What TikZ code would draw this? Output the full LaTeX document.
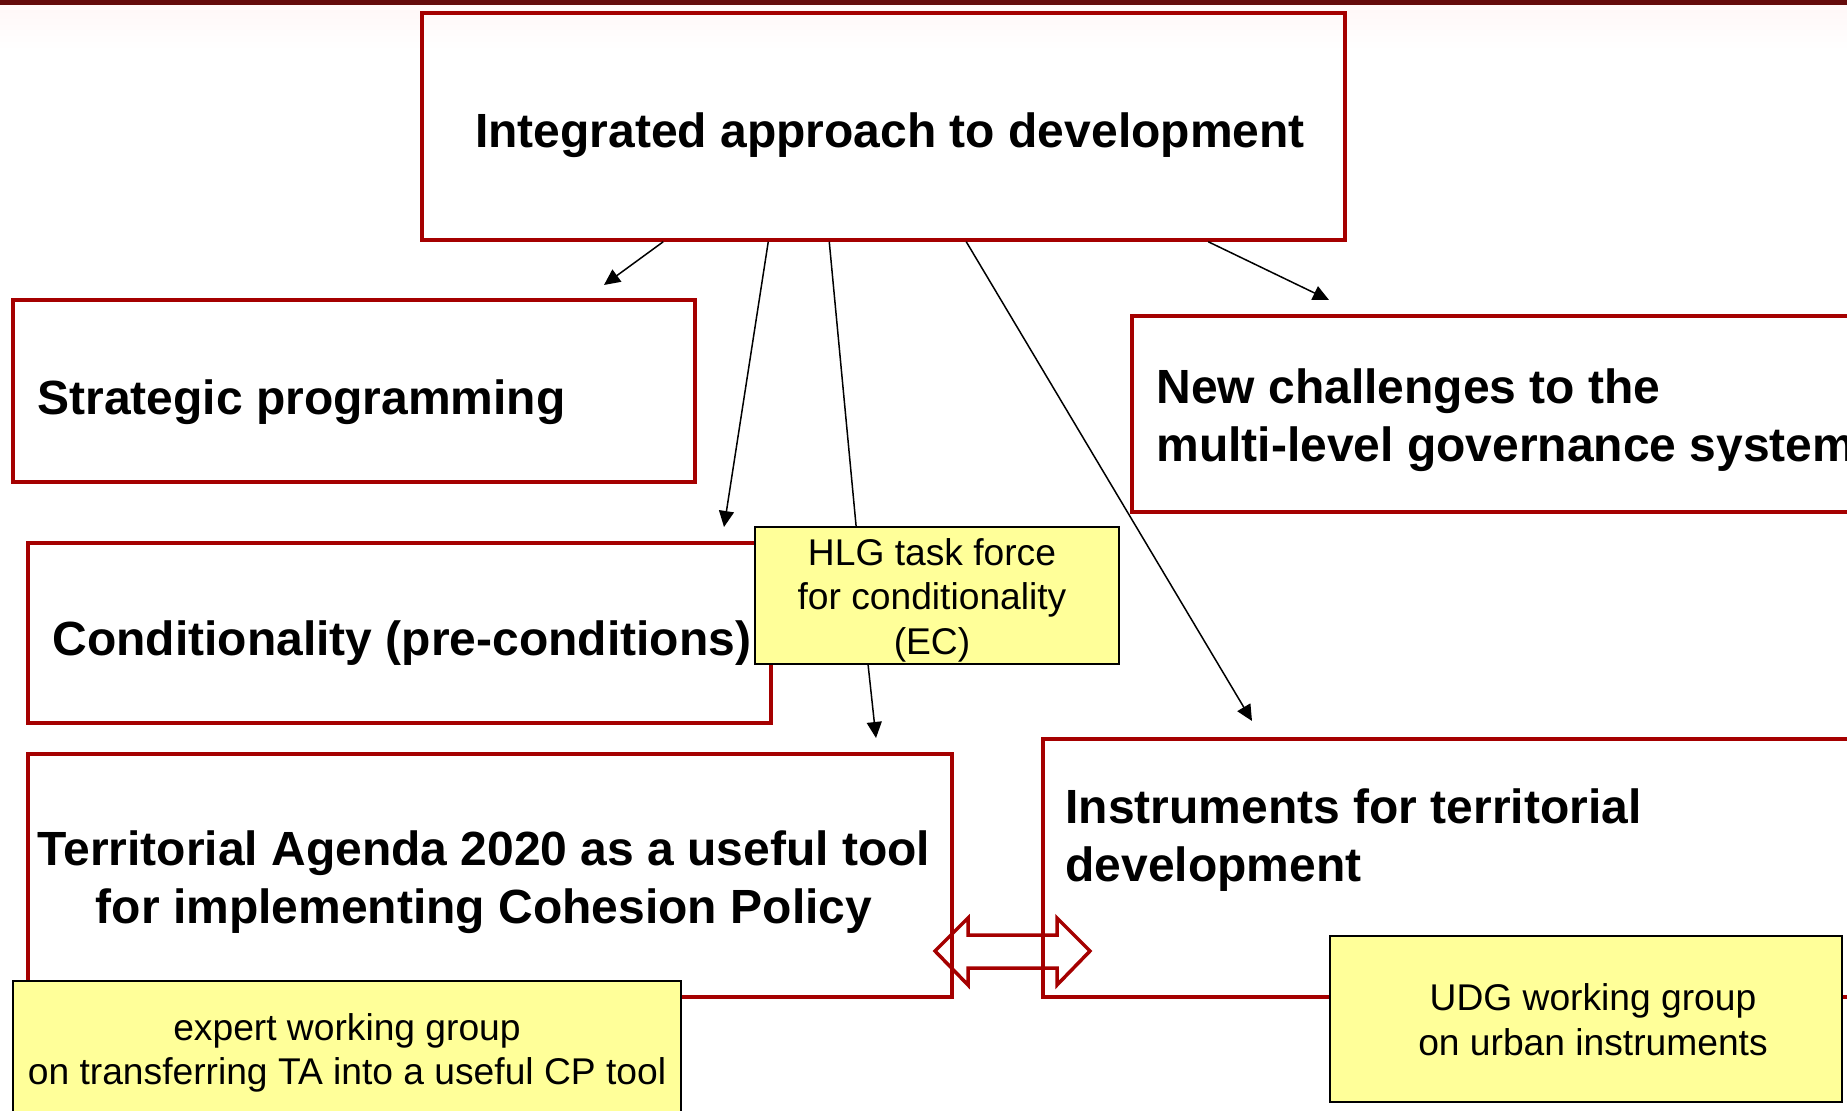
\documentclass[tikz,border=0pt]{standalone}
\usepackage{fontspec}
\setmainfont{Liberation Sans}
\usetikzlibrary{arrows.meta,fit,calc}
\definecolor{boxred}{HTML}{A50000}
\definecolor{notefill}{HTML}{FFFF99}
\definecolor{barred}{HTML}{650A0A}
\begin{document}
\begin{tikzpicture}[x=0.5pt,y=-0.5pt,
 redbox/.style={draw=boxred,line width=1.75pt,inner sep=0pt},
 notebox/.style={draw=black,fill=notefill,line width=0.9pt,inner sep=0pt},
 bigtext/.style={font=\fontsize{24}{28.9}\selectfont\bfseries,inner sep=0pt},
 smalltext/.style={font=\fontsize{18.6}{22.3}\selectfont,inner sep=0pt,align=center},
 link/.style={line width=0.75pt,-{Triangle[length=8pt,width=7.5pt]}},
 plainlink/.style={line width=0.75pt},
 dblarrow/.style={draw=boxred,line width=1.75pt,line join=miter}]
\useasboundingbox (0,0) rectangle (1847,1111);
\begin{scope}
\clip (0,0) rectangle (1847,1111);
\fill[barred] (0,0) rectangle (1847,6);
\shade[top color=red!3, bottom color=white] (0,6) rectangle (1847,50);
% red boxes
\node[redbox, fit={(422,13) (1345,240)}] (top) {};
\node[redbox, fit={(13,300) (695,482)}] (strat) {};
\node[redbox, fit={(28,543) (771,723)}] (cond) {};
\node[redbox, fit={(28,754) (952,997)}] (ta) {};
\node[redbox, fit={(1043,739) (1910,997)}] (inst) {};
\node[redbox, fit={(1132,316) (1910,512)}] (newc) {};
% texts in red boxes
\node[bigtext] (ttop) at (890,135) {Integrated approach to development};
\node[bigtext,anchor=west] (tstrat) at (37,402) {Strategic programming};
\node[bigtext,anchor=west] (tcond) at (52,643) {Conditionality (pre-conditions)};
\node[bigtext,align=center] (tta) at (484,882) {Territorial Agenda 2020 as a useful tool\\for implementing Cohesion Policy};
\node[bigtext,align=left,anchor=west] (tinst) at (1065,840) {Instruments for territorial\\development};
\node[bigtext,align=left,anchor=west] (tnewc) at (1156,420) {New challenges to the\\multi-level governance system};
% yellow notes
\node[notebox, fit={(755,527) (1119,664)}] (hlg) {};
\node[smalltext] (thlg) at (932,600) {HLG task force\\for conditionality\\(EC)};
\node[notebox, fit={(13,981) (681,1130)}] (expert) {};
\node[smalltext] (texpert) at (347,1053) {expert working group\\on transferring TA into a useful CP tool};
\node[notebox, fit={(1330,936) (1842,1102)}] (udg) {};
\node[smalltext] (tudg) at (1593,1020) {UDG working group\\on urban instruments};
% arrow ends
\coordinate (e1) at (604,285);
\coordinate (e2) at (724,527);
\coordinate (e3) at (876,738);
\coordinate (e4) at (1252,721);
\coordinate (e5) at (1329,300);
\draw[link] ($(top.south west)+(243,0)$) -- (e1);
\draw[link] ($(top.south west)+(348,0)$) -- (e2);
\draw[plainlink] ($(top.south west)+(409,0)$) -- ($(hlg.north west)+(102,0)$);
\draw[link] ($(hlg.south west)+(114,0)$) -- (e3);
\draw[link] ($(top.south west)+(546,0)$) -- (e4);
\draw[link] ($(top.south west)+(788,0)$) -- (e5);
% double arrow between TA and instruments
\draw[dblarrow] (935,951) -- (968,918) -- (968,935) -- (1057,935) -- (1057,918)
  -- (1090,951) -- (1057,985) -- (1057,968) -- (968,968) -- (968,985) -- cycle;
\end{scope}
\end{tikzpicture}
\end{document}
